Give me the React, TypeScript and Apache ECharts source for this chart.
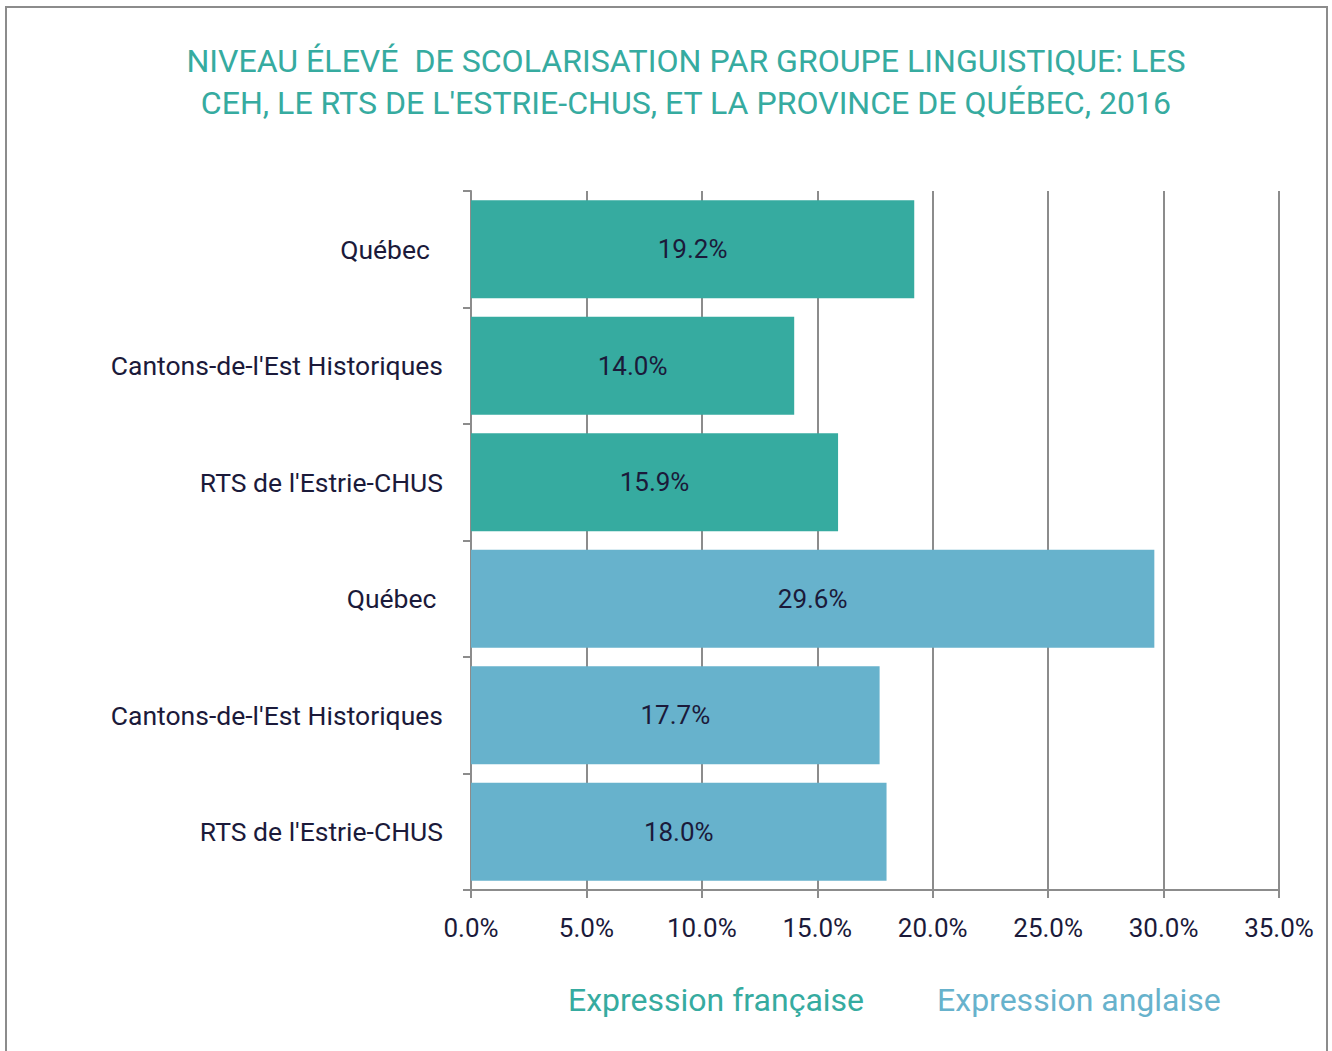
import React, { useEffect, useRef } from "react";
import * as echarts from "echarts";

const TITLE =
  "NIVEAU ÉLEVÉ\u00a0\u00a0DE SCOLARISATION PAR GROUPE LINGUISTIQUE: LES\nCEH, LE RTS DE L'ESTRIE-CHUS, ET LA PROVINCE DE QUÉBEC, 2016";
const categories = [
  "Québec\u00a0\u00a0",
  "Cantons-de-l'Est Historiques",
  "RTS de l'Estrie-CHUS",
  "Québec\u00a0",
  "Cantons-de-l'Est Historiques",
  "RTS de l'Estrie-CHUS",
];
const seriesNames = ["Expression française", "Expression anglaise"];
const frValues: (number | string)[] = [19.2, 14.0, 15.9, "-", "-", "-"];
const enValues: (number | string)[] = ["-", "-", "-", 29.6, 17.7, 18.0];
const colors = ["#36ABA0", "#67B2CC"];
const xTicks = { min: 0, max: 35, interval: 5 };

const FONT = "Roboto";
const DARK = "#1b1a3a";
const GRAY = "#8c8c8c";

export default function App() {
  const ref = useRef<HTMLDivElement>(null);
  useEffect(() => {
    if (!ref.current) return;
    const chart = echarts.init(ref.current, null, { renderer: "svg" });
    const label = {
      show: true,
      position: "inside",
      color: DARK,
      fontFamily: FONT,
      fontSize: 26,
      formatter: (p: any) => `${Number(p.value).toFixed(1)}%`,
    };
    chart.setOption({
      animation: false,
      backgroundColor: "#ffffff",
      textStyle: { fontFamily: FONT },
      title: {
        text: TITLE,
        left: 681,
        top: 35,
        textAlign: "center",
        textStyle: {
          color: colors[0],
          fontFamily: FONT,
          fontWeight: "normal",
          fontSize: 32.1,
          lineHeight: 42,
        },
      },
      graphic: [
        {
          type: "rect",
          shape: { x: 6, y: 7, width: 1321, height: 1100 },
          style: { fill: "none", stroke: GRAY, lineWidth: 2 },
          silent: true,
          z: -10,
        },
      ],
      legend: {
        data: seriesNames.map((n, i) => ({
          name: n,
          icon: "none",
          textStyle: { color: colors[i] },
        })),
        left: 558,
        top: 979,
        itemWidth: 0,
        itemHeight: 0,
        itemGap: 68,
        selectedMode: false,
        textStyle: { fontFamily: FONT, fontSize: 32 },
      },
      grid: { left: 471, right: 53, top: 191, bottom: 161, containLabel: false },
      xAxis: {
        type: "value",
        min: xTicks.min,
        max: xTicks.max,
        interval: xTicks.interval,
        axisLine: { show: true, lineStyle: { color: GRAY, width: 2 } },
        axisTick: { show: true, length: 8, lineStyle: { color: GRAY, width: 2 } },
        splitLine: { show: true, lineStyle: { color: GRAY, width: 2 } },
        axisLabel: {
          color: DARK,
          fontFamily: FONT,
          fontSize: 26,
          margin: 25,
          formatter: (v: number) => `${v.toFixed(1)}%`,
        },
      },
      yAxis: {
        type: "category",
        data: categories,
        inverse: true,
        axisLine: { show: true, lineStyle: { color: GRAY, width: 2 } },
        axisTick: { show: true, length: 8, lineStyle: { color: GRAY, width: 2 } },
        axisLabel: {
          color: DARK,
          fontFamily: FONT,
          fontSize: 26.5,
          margin: 28,
        },
      },
      series: [
        {
          name: seriesNames[0],
          type: "bar",
          stack: "all",
          data: frValues,
          barCategoryGap: "16%",
          itemStyle: { color: colors[0] },
          label,
        },
        {
          name: seriesNames[1],
          type: "bar",
          stack: "all",
          data: enValues,
          barCategoryGap: "16%",
          itemStyle: { color: colors[1] },
          label,
        },
      ],
    });
    return () => chart.dispose();
  }, []);
  return (
    <div
      ref={ref}
      style={{ position: "absolute", left: 0, top: 0, width: 1332, height: 1051 }}
    />
  );
}
